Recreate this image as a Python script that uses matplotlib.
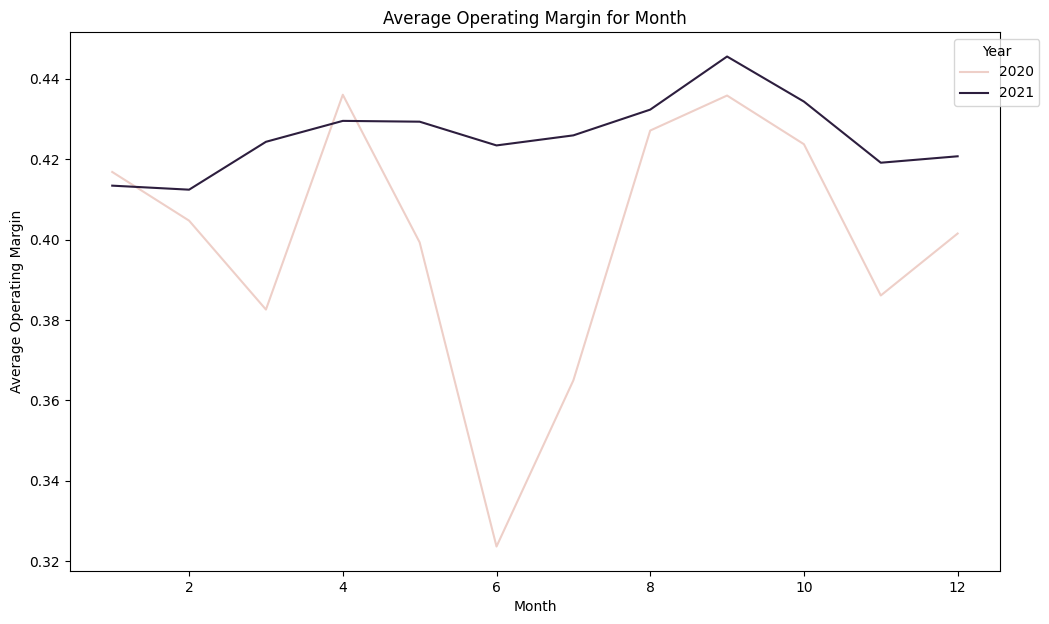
import matplotlib
matplotlib.use("Agg")
import matplotlib.pyplot as plt

months = [1, 2, 3, 4, 5, 6, 7, 8, 9, 10, 11, 12]
margin_2020 = [0.4168, 0.4047, 0.3826, 0.4360, 0.3993, 0.3237,
               0.3650, 0.4271, 0.4358, 0.4237, 0.3861, 0.4015]
margin_2021 = [0.4134, 0.4124, 0.4243, 0.4295, 0.4293, 0.4234,
               0.4259, 0.4323, 0.4455, 0.4343, 0.4191, 0.4207]
years = ["2020", "2021"]
colors = ["#eecfc8", "#2d1e3e"]

fig = plt.figure(figsize=(10.49, 6.24), dpi=100)
ax = fig.add_axes([0.0667, 0.0849, 0.8865, 0.8638])

for year, vals, c in zip(years, [margin_2020, margin_2021], colors):
    ax.plot(months, vals, color=c, linewidth=1.5, label=year)

ax.set_xticks([2, 4, 6, 8, 10, 12])
ax.set_title("Average Operating Margin for Month")
ax.set_xlabel("Month")
ax.set_ylabel("Average Operating Margin")
ax.legend(title="Year", loc="upper right", bbox_to_anchor=(1.05, 1))

fig.savefig("out.png", dpi=100)
